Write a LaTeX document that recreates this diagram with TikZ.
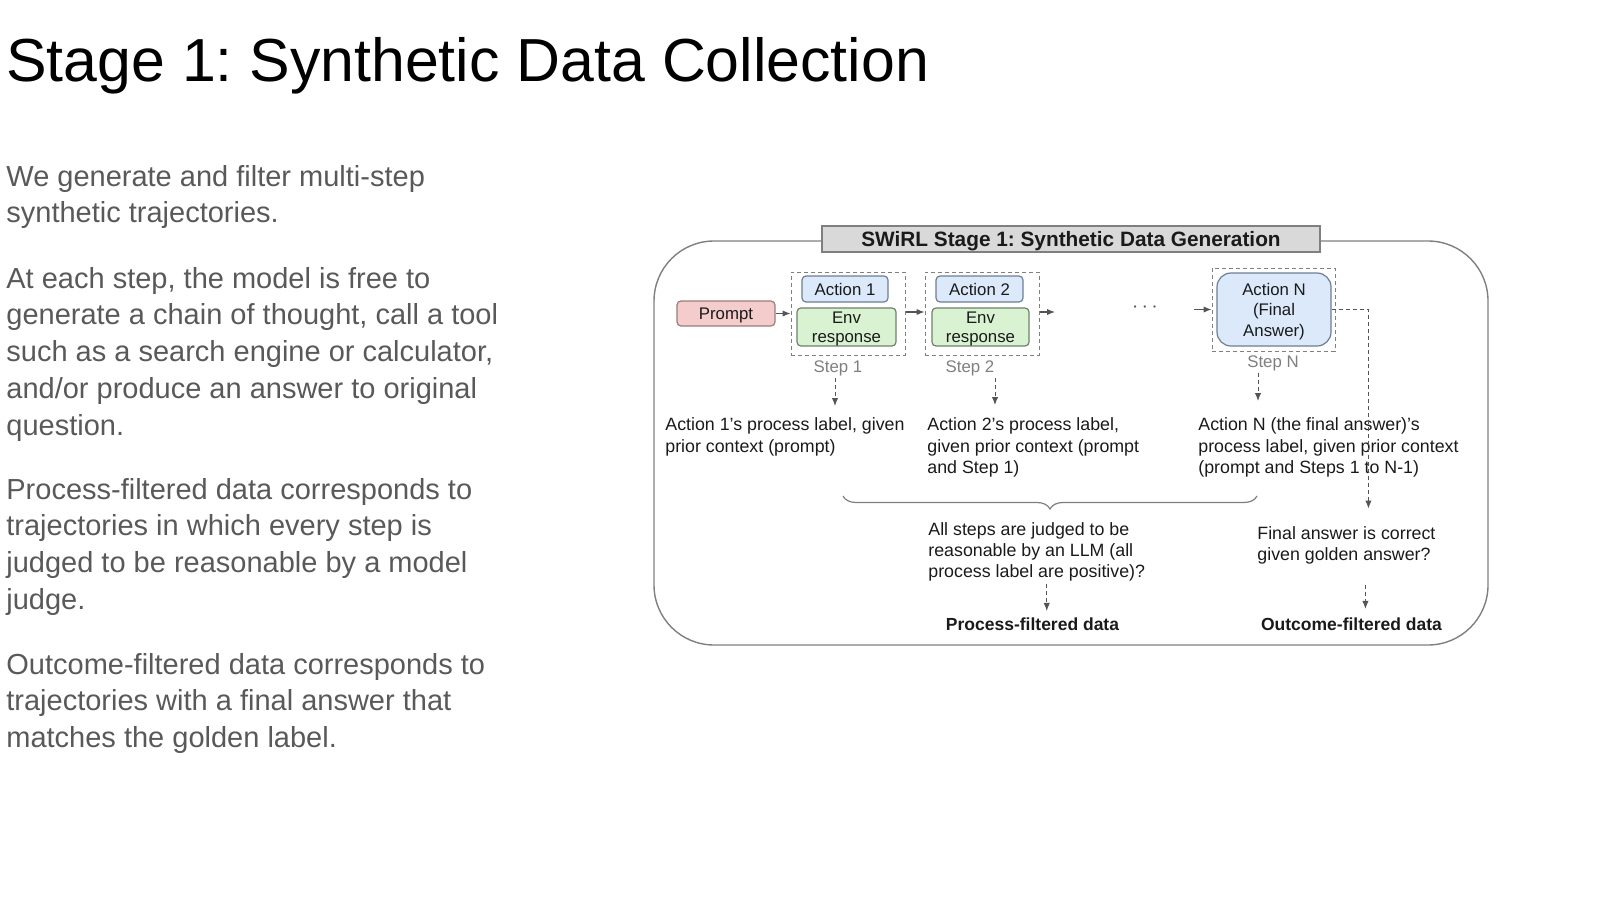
\documentclass[tikz,border=0pt]{standalone}
\usepackage{fontspec}
\setmainfont{Liberation Sans}
\usepackage{xcolor}
\usetikzlibrary{calc,positioning,arrows.meta,decorations.pathreplacing}
\frenchspacing

\definecolor{bodygray}{HTML}{595959}
\definecolor{ink}{HTML}{1A1A1A}
\definecolor{linegray}{HTML}{7F7F7F}
\definecolor{arrowgray}{HTML}{555555}
\definecolor{promptfill}{HTML}{F4CCCC}
\definecolor{promptline}{HTML}{9C7C7C}
\definecolor{actfill}{HTML}{DBE9FB}
\definecolor{actline}{HTML}{6D7F93}
\definecolor{envfill}{HTML}{D9F3D2}
\definecolor{envline}{HTML}{6E806A}
\definecolor{bannerfill}{HTML}{D9D9D9}

\newcommand{\boxpad}{\rule{0pt}{7.8pt}}

\tikzset{
	box/.style 2 args={draw=#1, fill=#2, line width=0.6pt, rounded corners=2pt, inner sep=0pt, align=center, text=ink, font=\fontsize{8.4}{9.5}\selectfont},
	stepframe/.style={draw=linegray, line width=0.5pt, dash pattern=on 2pt off 1.5pt, minimum width=57pt, minimum height=41.5pt, inner sep=0pt},
	steplabel/.style={anchor=base, inner sep=0pt, text=linegray, font=\fontsize{8.4}{10}\selectfont},
	desc/.style={anchor=north west, inner sep=0pt, align=left, text=ink, font=\fontsize{8.9}{10.8}\selectfont},
	outlabel/.style={anchor=base, inner sep=0pt, text=ink, font=\fontsize{8.75}{10}\selectfont\bfseries},
	para/.style={anchor=north west, inner sep=0pt, align=left, text=bodygray, font=\fontsize{14.5}{18.4}\selectfont},
	conn/.style={->, draw=arrowgray, line width=0.6pt},
	dconn/.style={->, draw=arrowgray, line width=0.5pt, dash pattern=on 2pt off 1.5pt}
}

\begin{document}
\begin{tikzpicture}[x=0.5pt, y=-0.5pt, >={Latex[length=4pt,width=3.2pt]}]
	\useasboundingbox (0,0) rectangle (1600,899);

	\node[anchor=base west, inner sep=0pt, font=\fontsize{30.4}{34}\selectfont] (title) at (6,82) {Stage 1: Synthetic Data Collection};

	\node[para] (p1) at (6,160) {\strut We generate and filter multi-step\\synthetic trajectories.};
	\node[para] (p2) at (6,262) {\strut At each step, the model is free to\\generate a chain of thought, call a tool\\such as a search engine or calculator,\\and/or produce an answer to original\\question.};
	\node[para] (p3) at (6,473) {\strut Process-filtered data corresponds to\\trajectories in which every step is\\judged to be reasonable by a model\\judge.};
	\node[para] (p4) at (6,648) {\strut Outcome-filtered data corresponds to\\trajectories with a final answer that\\matches the golden label.};

	\draw[linegray, line width=0.7pt, rounded corners=30pt] (654,241) rectangle (1488,645);
	\node[draw=linegray, fill=bannerfill, line width=0.7pt, minimum width=249pt, minimum height=13pt, inner sep=0pt, text depth=0pt, text=ink, font=\fontsize{10.4}{12}\selectfont\bfseries] (banner) at (1071,239) {SWiRL Stage 1: Synthetic Data Generation};

	\node[box={promptline}{promptfill}, minimum width=49pt, minimum height=12.5pt, text depth=0pt] (prompt) at (726,313.5) {Prompt};

	\node[stepframe] (step1) at (848,313.5) {};
	\node[box={actline}{actfill}, minimum width=43pt, minimum height=13pt] (act1) at (845,289) {Action 1};
	\node[box={envline}{envfill}, minimum width=49.5pt, minimum height=19pt] (env1) at (846.5,327) {\boxpad Env\\response};
	\node[steplabel] (s1lab) at (838,372) {Step 1};

	\node[stepframe] (step2) at (982,313.5) {};
	\node[box={actline}{actfill}, minimum width=43.5pt, minimum height=13pt] (act2) at (979.5,289) {Action 2};
	\node[box={envline}{envfill}, minimum width=48.5pt, minimum height=19pt] (env2) at (980.5,327) {\boxpad Env\\response};
	\node[steplabel] (s2lab) at (970,372) {Step 2};

	\node[inner sep=0pt, text=arrowgray, font=\fontsize{10.5}{12}\selectfont] (dots) at (1145,308) {$\cdots$};
	\coordinate (afterA) at (1055,312);
	\coordinate (beforeN) at (1194,309.5);

	\node[stepframe, minimum width=61.5pt] (stepN) at (1273.5,309.5) {};
	\node[box={actline}{actfill}, rounded corners=7pt, minimum width=57pt, minimum height=36.5pt, font=\fontsize{8.4}{10.25}\selectfont] (actN) at (1274,309.5) {\boxpad Action N\\(Final\\Answer)};
	\node[steplabel] (snlab) at (1273,367) {Step N};

	\draw[conn] (prompt) -- (step1);
	\draw[conn] (step1.east |- 0,312) -- (step2.west |- 0,312);
	\draw[conn] (step2.east |- afterA) -- (afterA);
	\draw[conn] (beforeN) -- (stepN.west |- beforeN);

	\node[desc] (lab1) at (665,415) {\strut Action 1’s process label, given\\prior context (prompt)};
	\node[desc] (lab2) at (927,415) {\strut Action 2’s process label,\\given prior context (prompt\\and Step 1)};
	\node[desc] (labN) at (1198,415) {\strut Action N (the final answer)’s\\process label, given prior context\\(prompt and Steps 1 to N-1)};

	\coordinate (s1down) at ($(s1lab.south)+(-3,0)$);
	\coordinate (s2down) at ($(s2lab.south)+(25,0)$);
	\coordinate (sndown) at ($(snlab.south)+(-15,0)$);
	\draw[dconn, shorten <=1pt, shorten >=4.5pt] (s1down) -- (s1down |- lab1.north);
	\draw[dconn, shorten <=1pt, shorten >=5pt] (s2down) -- (s2down |- lab2.north);
	\draw[dconn, shorten <=1pt, shorten >=7pt] (sndown) -- (sndown |- labN.north);

	\coordinate (brL) at (843,496);
	\coordinate (brR) at (1257,496);
	\draw[linegray, line width=0.6pt, decorate, decoration={brace, mirror, amplitude=6.5pt}] (brL) -- (brR);

	\node[desc, font=\fontsize{8.9}{10.5}\selectfont] (judge) at (928,520.5) {\strut All steps are judged to be\\reasonable by an LLM (all\\process label are positive)?};
	\node[desc] (final) at (1257,523.5) {\strut Final answer is correct\\given golden answer?};

	\node[outlabel] (procdata) at (1032.5,630) {Process-filtered data};
	\node[outlabel] (outdata) at (1351.5,630) {Outcome-filtered data};

	\draw[dconn, shorten >=7.5pt] (actN.east) -| ($(final.north)+(22,0)$);
	\coordinate (jdown) at ($(judge.south)+(10,0)$);
	\draw[dconn, shorten <=1pt, shorten >=3pt] (jdown) -- (jdown |- procdata.north);
	\coordinate (fdown) at ($(final.south)+(19,0)$);
	\draw[dconn, shorten <=10pt, shorten >=4pt] (fdown) -- (fdown |- outdata.north);
\end{tikzpicture}
\end{document}
